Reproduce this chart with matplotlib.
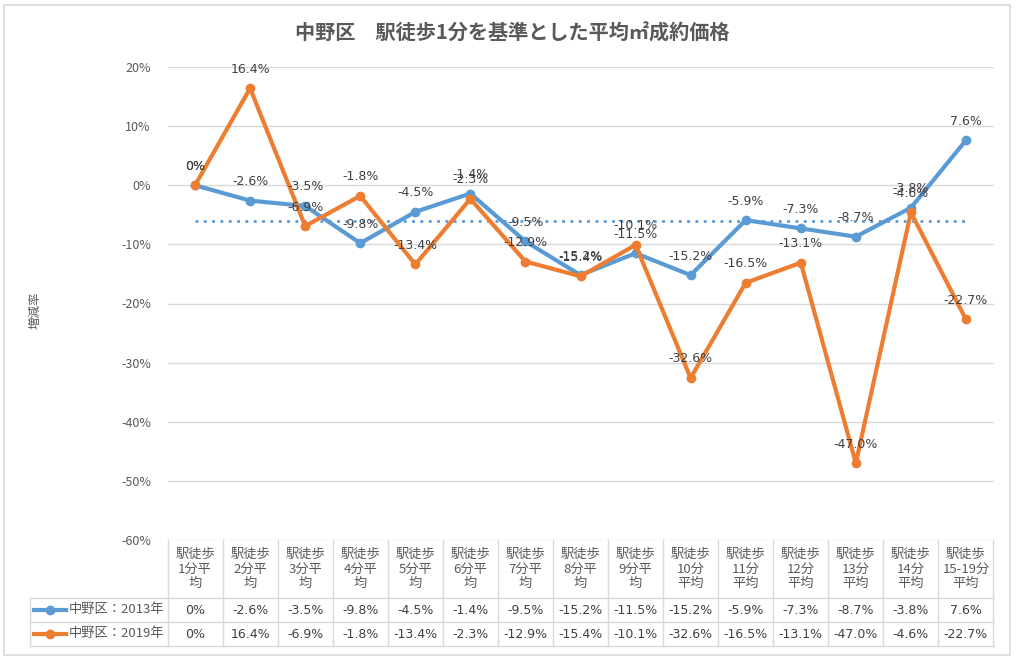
import matplotlib
matplotlib.use("Agg")
import matplotlib.pyplot as plt
import matplotlib.transforms as mtransforms
from matplotlib.patches import Rectangle

plt.rcParams['font.family'] = ['Noto Sans CJK JP', 'DejaVu Sans']

# data
categories = ['駅徒歩\n1分平\n均', '駅徒歩\n2分平\n均', '駅徒歩\n3分平\n均', '駅徒歩\n4分平\n均',
              '駅徒歩\n5分平\n均', '駅徒歩\n6分平\n均', '駅徒歩\n7分平\n均', '駅徒歩\n8分平\n均',
              '駅徒歩\n9分平\n均', '駅徒歩\n10分\n平均', '駅徒歩\n11分\n平均', '駅徒歩\n12分\n平均',
              '駅徒歩\n13分\n平均', '駅徒歩\n14分\n平均', '駅徒歩\n15-19分\n平均']
rate_2013 = [0, -2.6, -3.5, -9.8, -4.5, -1.4, -9.5, -15.2, -11.5, -15.2, -5.9, -7.3, -8.7, -3.8, 7.6]
rate_2019 = [0, 16.4, -6.9, -1.8, -13.4, -2.3, -12.9, -15.4, -10.1, -32.6, -16.5, -13.1, -47.0, -4.6, -22.7]
series_names = ['中野区：2013年', '中野区：2019年']
yticks = [20, 10, 0, -10, -20, -30, -40, -50, -60]
avg_level = -6.1  # dotted reference line

blue = '#5b9bd5'
orange = '#ed7d31'
txt = '#595959'
grid = '#d9d9d9'

W, H = 1024, 665
fig = plt.figure(figsize=(W / 100, H / 100), dpi=100)

def fy(p):
    return 1 - p / H

# outer frame
fig.patches.append(Rectangle((4 / W, fy(655)), 1006 / W, 650 / H, transform=fig.transFigure,
                             fill=False, edgecolor='#d9d9d9', linewidth=1.2))

ax = fig.add_axes([167.5 / W, fy(540), 826 / W, 473 / H])
x = list(range(len(categories)))
ax.set_xlim(-0.5, len(categories) - 0.5)
ax.set_ylim(-60, 20)
ax.set_yticks(yticks)
ax.set_yticklabels([f'{t}%' for t in yticks])
ax.tick_params(axis='y', length=0, labelsize=9, labelcolor=txt, pad=12)
ax.set_xticks([])
ax.grid(axis='y', color=grid, linewidth=1)
ax.set_axisbelow(True)
for s in ax.spines.values():
    s.set_visible(False)

ax.plot([0, len(categories) - 1], [avg_level, avg_level], linestyle=(0, (1, 2)), color=blue, linewidth=2)
ax.plot(x, rate_2013, color=blue, linewidth=3, marker='o', markersize=6)
ax.plot(x, rate_2019, color=orange, linewidth=3, marker='o', markersize=6)

def fmt(v):
    return '0%' if v == 0 else f'{v:.1f}%'

for vals in (rate_2013, rate_2019):
    for i, v in enumerate(vals):
        ax.annotate(fmt(v), (i, v), xytext=(0, 9), textcoords='offset points',
                    ha='center', va='bottom', fontsize=9, color='#404040',
                    family=['DejaVu Sans'])

fig.text(0.5, fy(33), '中野区　駅徒歩1分を基準とした平均㎡成約価格', ha='center', va='center',
         fontsize=14.5, color=txt, fontweight='bold')
fig.text(35 / W, fy(310), '増減率', rotation=90, ha='center', va='center', fontsize=9, color=txt)

# data table under the plot
tr = mtransforms.blended_transform_factory(ax.transData, fig.transFigure)
n = len(categories)
for i in range(n + 1):
    ax.plot([i - 0.5, i - 0.5], [fy(540), fy(646)], transform=tr, color=grid, linewidth=1, clip_on=False)
for yp in (598, 622, 646):
    fig.add_artist(plt.Line2D([30 / W, 993.5 / W], [fy(yp), fy(yp)], color=grid, linewidth=1))
fig.add_artist(plt.Line2D([30 / W, 30 / W], [fy(598), fy(646)], color=grid, linewidth=1))

for i, c in enumerate(categories):
    ax.text(i, fy(569), c, transform=tr, ha='center', va='center', fontsize=9.5,
            color=txt, linespacing=1.15)
for row, (vals, col, name) in enumerate(zip((rate_2013, rate_2019), (blue, orange), series_names)):
    yc = fy(610 + 24 * row)
    for i, v in enumerate(vals):
        ax.text(i, yc, fmt(v), transform=tr, ha='center', va='center', fontsize=9,
                color='#404040', family=['DejaVu Sans'])
    fig.add_artist(plt.Line2D([34 / W, 66 / W], [yc, yc], color=col, linewidth=3))
    fig.add_artist(plt.Line2D([50 / W], [yc], color=col, marker='o', markersize=6))
    fig.text(69 / W, yc, name, ha='left', va='center', fontsize=9.5, color=txt)

fig.savefig('out.png', dpi=100)
